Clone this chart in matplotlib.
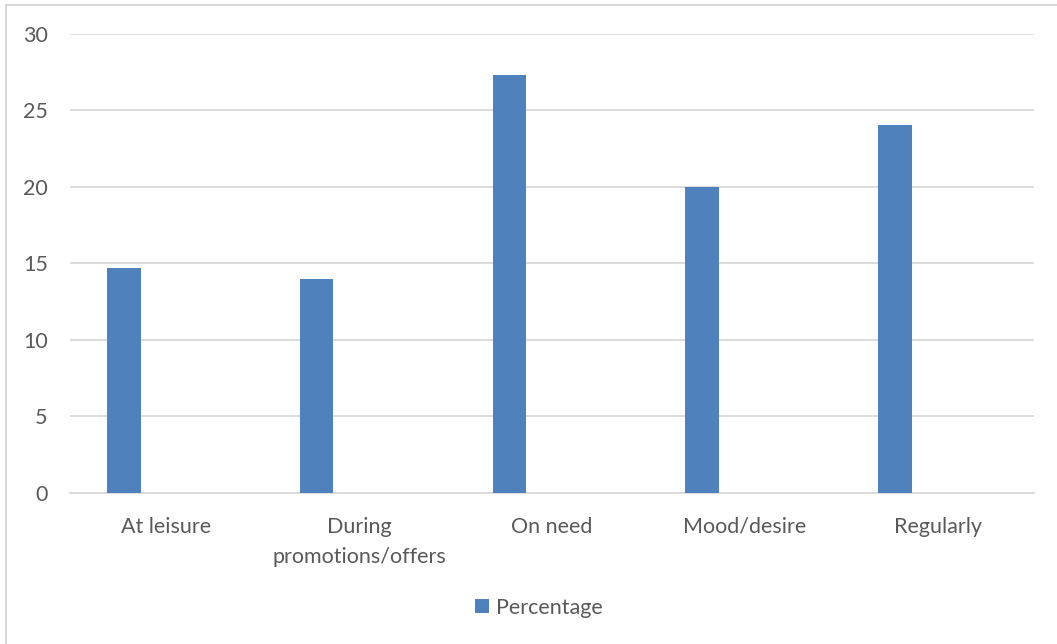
import matplotlib
matplotlib.use("Agg")
import matplotlib.pyplot as plt
from matplotlib.patches import Rectangle
import numpy as np

categories = ["At leisure", "During\npromotions/offers", "On need", "Mood/desire", "Regularly"]
percentage = [14.7, 14.0, 27.3, 20.0, 24.0]
y_ticks = [0, 5, 10, 15, 20, 25, 30]

plt.rcParams["font.family"] = ["Lato", "DejaVu Sans"]
text_color = "#595959"
bar_color = "#4f81bd"
grid_color = "#d9d9d9"

W, H = 1057, 644
fig = plt.figure(figsize=(W / 100, H / 100), dpi=100)
fig.patch.set_facecolor("white")

# outer chart frame
fig.add_artist(Rectangle((6 / W, -0.1), 1.2, (H - 5) / H + 0.1, transform=fig.transFigure,
                         fill=False, edgecolor="#d9d9d9", linewidth=1.5))

ax = fig.add_axes([70 / W, 151 / H, (1034 - 70) / W, (493 - 33.5) / H])
x = np.arange(len(categories))
ax.bar(x - 0.221, percentage, width=0.174, color=bar_color, label="Percentage", zorder=3)

ax.set_xlim(-0.5, len(categories) - 0.5)
ax.set_ylim(0, 30)
ax.set_yticks(y_ticks)
ax.set_yticklabels([str(t) for t in y_ticks])
ax.set_xticks(x)
ax.set_xticklabels(categories, linespacing=1.68)
ax.tick_params(axis="both", length=0, colors=text_color, labelsize=15.5)
ax.tick_params(axis="y", pad=16)
ax.tick_params(axis="x", pad=17)
ax.grid(axis="y", color=grid_color, linewidth=1.3, zorder=0)
for side in ["top", "right", "left"]:
    ax.spines[side].set_visible(False)
ax.spines["bottom"].set_color(grid_color)
ax.spines["bottom"].set_linewidth(1.3)

leg = fig.legend(loc="center", bbox_to_anchor=(539 / W, 1 - 608 / H), frameon=False,
                 fontsize=15.5, handlelength=0.62, handleheight=0.62, handletextpad=0.35)
for t in leg.get_texts():
    t.set_color(text_color)

fig.savefig("out.png", dpi=100, facecolor="white")
